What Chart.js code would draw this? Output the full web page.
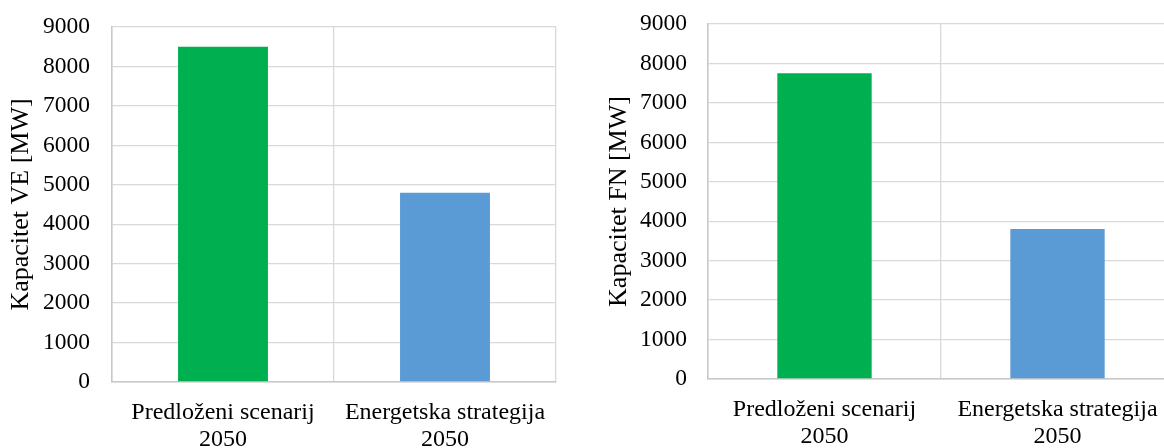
<!DOCTYPE html>
<html>
<head>
<meta charset="utf-8">
<script src="https://cdn.jsdelivr.net/npm/chart.js@4/dist/chart.umd.min.js"></script>
<style>
  html, body { margin: 0; padding: 0; background: #fff; width: 1164px; height: 448px; overflow: hidden; }
  .box { position: absolute; top: 0; height: 448px; }
  #b1 { left: 0; width: 570px; }
  #b2 { left: 590px; width: 600px; }
</style>
</head>
<body>
<div class="box" id="b1"><canvas id="c1"></canvas></div>
<div class="box" id="b2"><canvas id="c2"></canvas></div>
<script>
const categories = [["Predloženi scenarij", "2050"], ["Energetska strategija", "2050"]];
const veValues = [8500, 4800];
const fnValues = [7750, 3800];
const barColors = ["#00B050", "#5B9BD5"];
const yMin = 0;
const yMax = 9000;
const yStep = 1000;
const veTitle = "Kapacitet VE [MW]";
const fnTitle = "Kapacitet FN [MW]";

const FONT = "'Liberation Serif', 'Times New Roman', serif";

function makeChart(id, values, title, cfg) {
  return new Chart(document.getElementById(id), {
    type: 'bar',
    data: {
      labels: categories,
      datasets: [{
        data: values,
        backgroundColor: barColors,
        borderWidth: 0,
        barPercentage: 0.405,
        categoryPercentage: 1.0
      }]
    },
    options: {
      responsive: true,
      maintainAspectRatio: false,
      animation: false,
      events: [],
      layout: { padding: { left: 0, right: cfg.right, top: cfg.top, bottom: 0 } },
      plugins: { legend: { display: false }, tooltip: { enabled: false } },
      scales: {
        x: {
          offset: true,
          grid: { display: true, offset: true, color: '#D9D9D9', lineWidth: 1.3, drawTicks: false },
          border: { display: true, color: '#C8C8C8', width: 1.5 },
          ticks: { color: '#000', font: { family: FONT, size: 24, lineHeight: 1.125 }, padding: 17, maxRotation: 0, autoSkip: false },
          afterFit: (s) => { s.height = 448 - cfg.bottom; }
        },
        y: {
          min: yMin, max: yMax,
          grid: { color: '#D9D9D9', lineWidth: 1.3, drawTicks: false },
          border: { display: true, color: '#C8C8C8', width: 1.5 },
          ticks: { stepSize: yStep, color: '#000', font: { family: FONT, size: 23.5 }, padding: cfg.tickPad, callback: (v) => String(v) },
          title: { display: true, text: title, color: '#000', font: { family: FONT, size: 26, lineHeight: 1.2 }, padding: { top: cfg.titleTop, bottom: 0 } },
          afterFit: (s) => { s.width = cfg.left; s.paddingTop = 0; s.paddingBottom = 0; }
        }
      }
    }
  });
}

makeChart('c1', veValues, veTitle, { left: 112, top: 27, bottom: 382, right: 14, tickPad: 22, titleTop: 6 });
makeChart('c2', fnValues, fnTitle, { left: 118, top: 24, bottom: 379, right: 16, tickPad: 21, titleTop: 14 });
</script>
</body>
</html>
